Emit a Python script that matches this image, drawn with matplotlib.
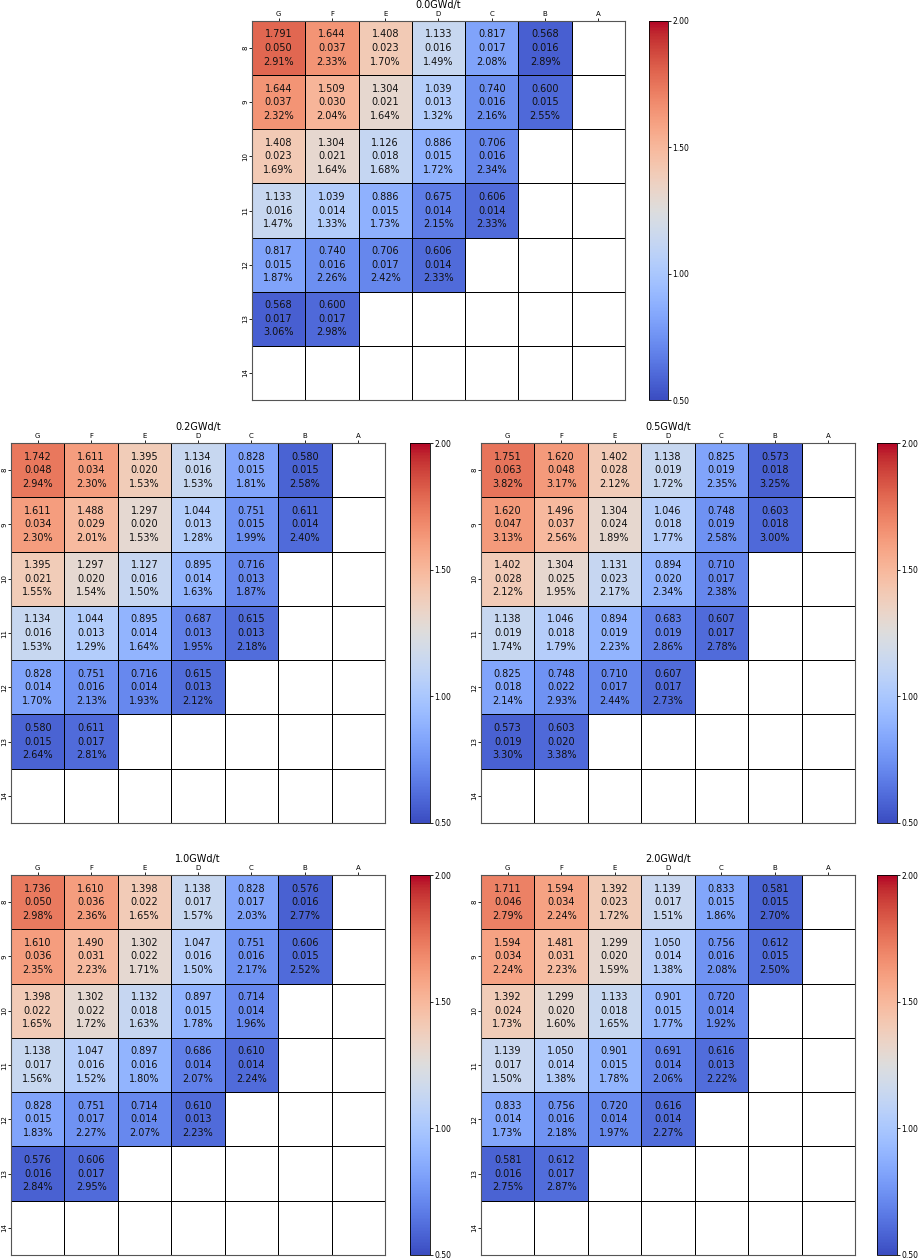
import matplotlib
matplotlib.use('Agg')
import matplotlib.pyplot as plt
import numpy as np

# column / row labels
cols = ['G', 'F', 'E', 'D', 'C', 'B', 'A']
rows = ['8', '9', '10', '11', '12', '13', '14']

titles = ['0.0GWd/t', '0.2GWd/t', '0.5GWd/t', '1.0GWd/t', '2.0GWd/t']

# mean values per panel (row 8 .. 13), missing cells left out
val_00 = [[1.791, 1.644, 1.408, 1.133, 0.817, 0.568],
          [1.644, 1.509, 1.304, 1.039, 0.740, 0.600],
          [1.408, 1.304, 1.126, 0.886, 0.706],
          [1.133, 1.039, 0.886, 0.675, 0.606],
          [0.817, 0.740, 0.706, 0.606],
          [0.568, 0.600]]
std_00 = [[0.050, 0.037, 0.023, 0.016, 0.017, 0.016],
          [0.037, 0.030, 0.021, 0.013, 0.016, 0.015],
          [0.023, 0.021, 0.018, 0.015, 0.016],
          [0.016, 0.014, 0.015, 0.014, 0.014],
          [0.015, 0.016, 0.017, 0.014],
          [0.017, 0.017]]
pct_00 = [[2.91, 2.33, 1.70, 1.49, 2.08, 2.89],
          [2.32, 2.04, 1.64, 1.32, 2.16, 2.55],
          [1.69, 1.64, 1.68, 1.72, 2.34],
          [1.47, 1.33, 1.73, 2.15, 2.33],
          [1.87, 2.26, 2.42, 2.33],
          [3.06, 2.98]]

val_02 = [[1.742, 1.611, 1.395, 1.134, 0.828, 0.580],
          [1.611, 1.488, 1.297, 1.044, 0.751, 0.611],
          [1.395, 1.297, 1.127, 0.895, 0.716],
          [1.134, 1.044, 0.895, 0.687, 0.615],
          [0.828, 0.751, 0.716, 0.615],
          [0.580, 0.611]]
std_02 = [[0.048, 0.034, 0.020, 0.016, 0.015, 0.015],
          [0.034, 0.029, 0.020, 0.013, 0.015, 0.014],
          [0.021, 0.020, 0.016, 0.014, 0.013],
          [0.016, 0.013, 0.014, 0.013, 0.013],
          [0.014, 0.016, 0.014, 0.013],
          [0.015, 0.017]]
pct_02 = [[2.94, 2.30, 1.53, 1.53, 1.81, 2.58],
          [2.30, 2.01, 1.53, 1.28, 1.99, 2.40],
          [1.55, 1.54, 1.50, 1.63, 1.87],
          [1.53, 1.29, 1.64, 1.95, 2.18],
          [1.70, 2.13, 1.93, 2.12],
          [2.64, 2.81]]

val_05 = [[1.751, 1.620, 1.402, 1.138, 0.825, 0.573],
          [1.620, 1.496, 1.304, 1.046, 0.748, 0.603],
          [1.402, 1.304, 1.131, 0.894, 0.710],
          [1.138, 1.046, 0.894, 0.683, 0.607],
          [0.825, 0.748, 0.710, 0.607],
          [0.573, 0.603]]
std_05 = [[0.063, 0.048, 0.028, 0.019, 0.019, 0.018],
          [0.047, 0.037, 0.024, 0.018, 0.019, 0.018],
          [0.028, 0.025, 0.023, 0.020, 0.017],
          [0.019, 0.018, 0.019, 0.019, 0.017],
          [0.018, 0.022, 0.017, 0.017],
          [0.019, 0.020]]
pct_05 = [[3.82, 3.17, 2.12, 1.72, 2.35, 3.25],
          [3.13, 2.56, 1.89, 1.77, 2.58, 3.00],
          [2.12, 1.95, 2.17, 2.34, 2.38],
          [1.74, 1.79, 2.23, 2.86, 2.78],
          [2.14, 2.93, 2.44, 2.73],
          [3.30, 3.38]]

val_10 = [[1.736, 1.610, 1.398, 1.138, 0.828, 0.576],
          [1.610, 1.490, 1.302, 1.047, 0.751, 0.606],
          [1.398, 1.302, 1.132, 0.897, 0.714],
          [1.138, 1.047, 0.897, 0.686, 0.610],
          [0.828, 0.751, 0.714, 0.610],
          [0.576, 0.606]]
std_10 = [[0.050, 0.036, 0.022, 0.017, 0.017, 0.016],
          [0.036, 0.031, 0.022, 0.016, 0.016, 0.015],
          [0.022, 0.022, 0.018, 0.015, 0.014],
          [0.017, 0.016, 0.016, 0.014, 0.014],
          [0.015, 0.017, 0.014, 0.013],
          [0.016, 0.017]]
pct_10 = [[2.98, 2.36, 1.65, 1.57, 2.03, 2.77],
          [2.35, 2.23, 1.71, 1.50, 2.17, 2.52],
          [1.65, 1.72, 1.63, 1.78, 1.96],
          [1.56, 1.52, 1.80, 2.07, 2.24],
          [1.83, 2.27, 2.07, 2.23],
          [2.84, 2.95]]

val_20 = [[1.711, 1.594, 1.392, 1.139, 0.833, 0.581],
          [1.594, 1.481, 1.299, 1.050, 0.756, 0.612],
          [1.392, 1.299, 1.133, 0.901, 0.720],
          [1.139, 1.050, 0.901, 0.691, 0.616],
          [0.833, 0.756, 0.720, 0.616],
          [0.581, 0.612]]
std_20 = [[0.046, 0.034, 0.023, 0.017, 0.015, 0.015],
          [0.034, 0.031, 0.020, 0.014, 0.016, 0.015],
          [0.024, 0.020, 0.018, 0.015, 0.014],
          [0.017, 0.014, 0.015, 0.014, 0.013],
          [0.014, 0.016, 0.014, 0.014],
          [0.016, 0.017]]
pct_20 = [[2.79, 2.24, 1.72, 1.51, 1.86, 2.70],
          [2.24, 2.23, 1.59, 1.38, 2.08, 2.50],
          [1.73, 1.60, 1.65, 1.77, 1.92],
          [1.50, 1.38, 1.78, 2.06, 2.22],
          [1.73, 2.18, 1.97, 2.27],
          [2.75, 2.87]]

panels = [(val_00, std_00, pct_00), (val_02, std_02, pct_02),
          (val_05, std_05, pct_05), (val_10, std_10, pct_10),
          (val_20, std_20, pct_20)]


def to_grid(rows_list):
    g = np.full((len(rows), len(cols)), np.nan)
    for i, r in enumerate(rows_list):
        g[i, :len(r)] = r
    return g


W, H = 920, 1260
# axes boxes in pixels: (left, top, right, bottom), colorbar (left, right)
boxes = [((252, 21, 625, 400), (649, 668)),
         ((11, 443, 385, 823), (410, 430)),
         ((481, 443, 855, 823), (877, 897)),
         ((11, 875, 385, 1255), (410, 430)),
         ((481, 875, 855, 1255), (877, 897))]

fig = plt.figure(figsize=(W / 100, H / 100), dpi=100)

for k, ((v, s, p), (box, cb)) in enumerate(zip(panels, boxes)):
    l, t, r, b = box
    ax = fig.add_axes([l / W, 1 - b / H, (r - l) / W, (b - t) / H])
    cax = fig.add_axes([cb[0] / W, 1 - b / H, (cb[1] - cb[0]) / W, (b - t) / H])

    vg = to_grid(v)
    sg = to_grid(s)
    pg = to_grid(p)

    mesh = ax.pcolormesh(np.ma.masked_invalid(vg), cmap='coolwarm', vmin=0.5, vmax=2.0,
                         edgecolors='black', linewidth=0.7)
    # grid lines for empty cells too
    for i in range(len(rows) + 1):
        ax.axhline(i, color='#555555', lw=0.7, zorder=0.5)
    for j in range(len(cols) + 1):
        ax.axvline(j, color='#555555', lw=0.7, zorder=0.5)

    for i in range(len(rows)):
        for j in range(len(cols)):
            if np.isnan(vg[i, j]):
                continue
            ax.text(j + 0.5, i + 0.5,
                    '%.3f\n%.3f\n%.2f%%' % (vg[i, j], sg[i, j], pg[i, j]),
                    ha='center', va='center', fontsize=7, linespacing=1.45,
                    color='#111111')

    ax.set_xlim(0, len(cols))
    ax.set_ylim(len(rows), 0)
    ax.xaxis.tick_top()
    ax.set_xticks(np.arange(len(cols)) + 0.5)
    ax.set_xticklabels(cols, fontsize=5)
    ax.set_yticks(np.arange(len(rows)) + 0.5)
    ax.set_yticklabels(rows, fontsize=5, rotation=90, va='center')
    ax.tick_params(length=2, width=0.6, pad=0.8)
    for sp in ax.spines.values():
        sp.set_color('#555555')
        sp.set_linewidth(0.8)
    ax.set_title(titles[k], fontsize=7, y=1.0, pad=9.5)

    cbar = fig.colorbar(mesh, cax=cax, ticks=[0.5, 1.0, 1.5, 2.0], format='%.2f')
    cbar.ax.tick_params(labelsize=5.5, length=2, width=0.6, pad=1)
    cbar.outline.set_linewidth(0.6)

fig.savefig('out.png', dpi=100)
